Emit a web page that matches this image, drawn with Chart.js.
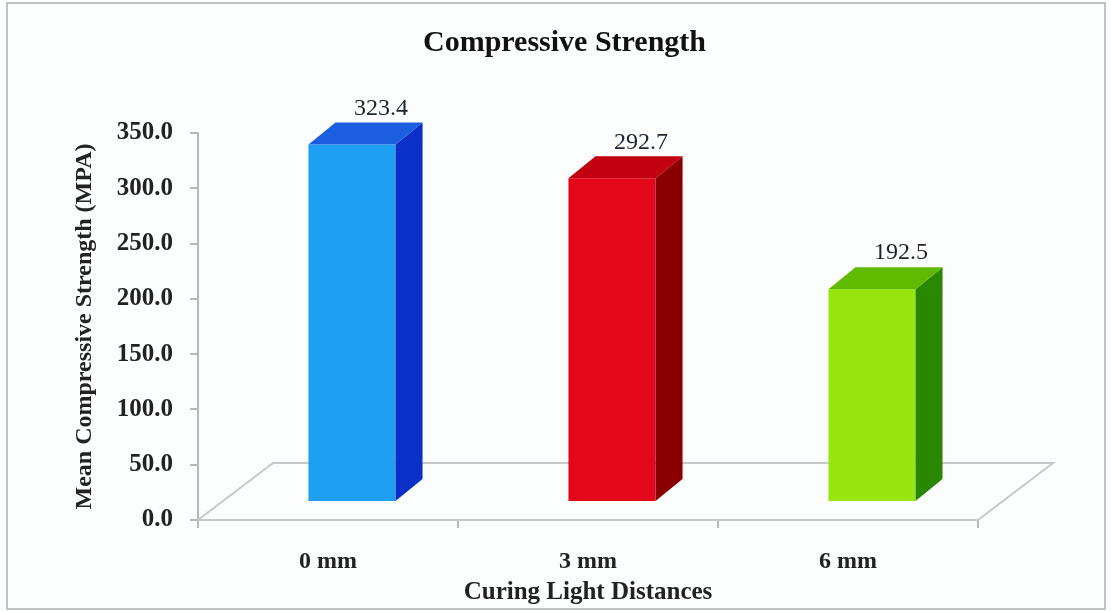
<!DOCTYPE html>
<html>
<head>
<meta charset="utf-8">
<script src="https://cdn.jsdelivr.net/npm/chart.js@4.4.1/dist/chart.umd.min.js"></script>
<style>
  html, body { margin: 0; padding: 0; background: #ffffff; }
  canvas { display: block; }
</style>
</head>
<body>
<canvas id="strengthChart" width="1111" height="611"></canvas>
<script>
const distances = ['0 mm', '3 mm', '6 mm'];
const meanStrength = [323.4, 292.7, 192.5];
const yTicks = [0, 50, 100, 150, 200, 250, 300, 350];

const frontColors = ['#1e9ff2', '#e2081a', '#97e50c'];
const sideColors = ['#0a30c8', '#8a0000', '#2a8800'];
const topColors = ['#1c5ee0', '#c2000f', '#60bb00'];

const serif = "'Liberation Serif', 'Times New Roman', serif";
const axisGray = '#b8b8b8';

// fake 3d: floor depth, where the bars stand on it, and the bar depth
const floorDepth = { dx: 75, dy: -57 };
const barShift = { dx: 24, dy: -18 };
const barDepth = { dx: 27, dy: -22 };

const excel3d = {
  id: 'excel3d',
  beforeDraw(chart) {
    const { ctx, width, height } = chart;
    ctx.save();
    ctx.fillStyle = '#fcfdfd';
    ctx.fillRect(0, 0, width, height);
    ctx.strokeStyle = '#c0c3c6';
    ctx.lineWidth = 2;
    ctx.strokeRect(7, 3, width - 13, height - 5);
    ctx.restore();
  },
  beforeDatasetsDraw(chart) {
    const { ctx, chartArea: a } = chart;
    ctx.save();
    ctx.strokeStyle = '#c8c8c8';
    ctx.lineWidth = 2;
    ctx.beginPath();
    ctx.moveTo(a.left, a.bottom);
    ctx.lineTo(a.left + floorDepth.dx, a.bottom + floorDepth.dy);
    ctx.lineTo(a.right + floorDepth.dx, a.bottom + floorDepth.dy);
    ctx.lineTo(a.right, a.bottom);
    ctx.stroke();
    ctx.restore();
    // bars sit a bit back on the floor
    ctx.save();
    ctx.translate(barShift.dx, barShift.dy);
  },
  afterDatasetsDraw(chart) {
    const { ctx } = chart;
    const meta = chart.getDatasetMeta(0);
    meta.data.forEach((bar, i) => {
      const l = bar.x - bar.width / 2;
      const r = bar.x + bar.width / 2;
      const t = bar.y;
      const b = bar.base;
      ctx.fillStyle = sideColors[i];
      ctx.beginPath();
      ctx.moveTo(r, t);
      ctx.lineTo(r + barDepth.dx, t + barDepth.dy);
      ctx.lineTo(r + barDepth.dx, b + barDepth.dy);
      ctx.lineTo(r, b);
      ctx.closePath();
      ctx.fill();

      ctx.fillStyle = topColors[i];
      ctx.beginPath();
      ctx.moveTo(l, t);
      ctx.lineTo(l + barDepth.dx, t + barDepth.dy);
      ctx.lineTo(r + barDepth.dx, t + barDepth.dy);
      ctx.lineTo(r, t);
      ctx.closePath();
      ctx.fill();

      ctx.fillStyle = '#1b2330';
      ctx.font = '24px ' + serif;
      ctx.textAlign = 'center';
      ctx.textBaseline = 'middle';
      ctx.fillText(meanStrength[i].toFixed(1), bar.x + 29, t - 36);
    });
    ctx.restore();
  }
};

const ctxStrength = document.getElementById('strengthChart');

const strengthChart = new Chart(ctxStrength, {
  type: 'bar',
  data: {
    labels: distances,
    datasets: [{
      label: 'Mean Compressive Strength',
      data: meanStrength,
      backgroundColor: frontColors,
      borderWidth: 0,
      categoryPercentage: 1,
      barPercentage: 0.335,
      clip: false
    }]
  },
  options: {
    responsive: false,
    animation: false,
    layout: { padding: { left: 18 } },
    plugins: {
      legend: { display: false },
      tooltip: { enabled: false },
      title: {
        display: true,
        text: 'Compressive Strength',
        color: '#111',
        font: { family: serif, size: 30, weight: 'bold' },
        padding: { top: 25, bottom: 72 }
      }
    },
    scales: {
      x: {
        grid: { drawOnChartArea: false, offset: true, tickLength: 8, color: axisGray, lineWidth: 2 },
        border: { color: '#c8c8c8', width: 2 },
        ticks: { color: '#222', padding: 19, font: { family: serif, size: 24, weight: 'bold' } },
        title: {
          display: true,
          text: 'Curing Light Distances',
          color: '#222',
          padding: 3,
          font: { family: serif, size: 25, weight: 'bold' }
        },
        afterFit: s => { s.height = 91; }
      },
      y: {
        min: 0,
        max: 350,
        afterBuildTicks: s => { s.ticks = yTicks.map(v => ({ value: v })); },
        grid: { drawOnChartArea: false, tickLength: 8, color: axisGray, lineWidth: 2 },
        border: { color: axisGray, width: 2 },
        ticks: {
          color: '#222',
          padding: 17,
          font: { family: serif, size: 25, weight: 'bold' },
          callback: v => v.toFixed(1)
        },
        title: {
          display: true,
          text: 'Mean Compressive Strength (MPA)',
          color: '#222',
          padding: 52,
          font: { family: serif, size: 24, weight: 'bold' }
        },
        afterFit: s => { s.width = 180; }
      },
      yR: {
        position: 'right',
        grid: { display: false },
        ticks: { display: false },
        border: { display: false },
        afterFit: s => { s.width = 133; }
      }
    }
  },
  plugins: [excel3d]
});
</script>
</body>
</html>
